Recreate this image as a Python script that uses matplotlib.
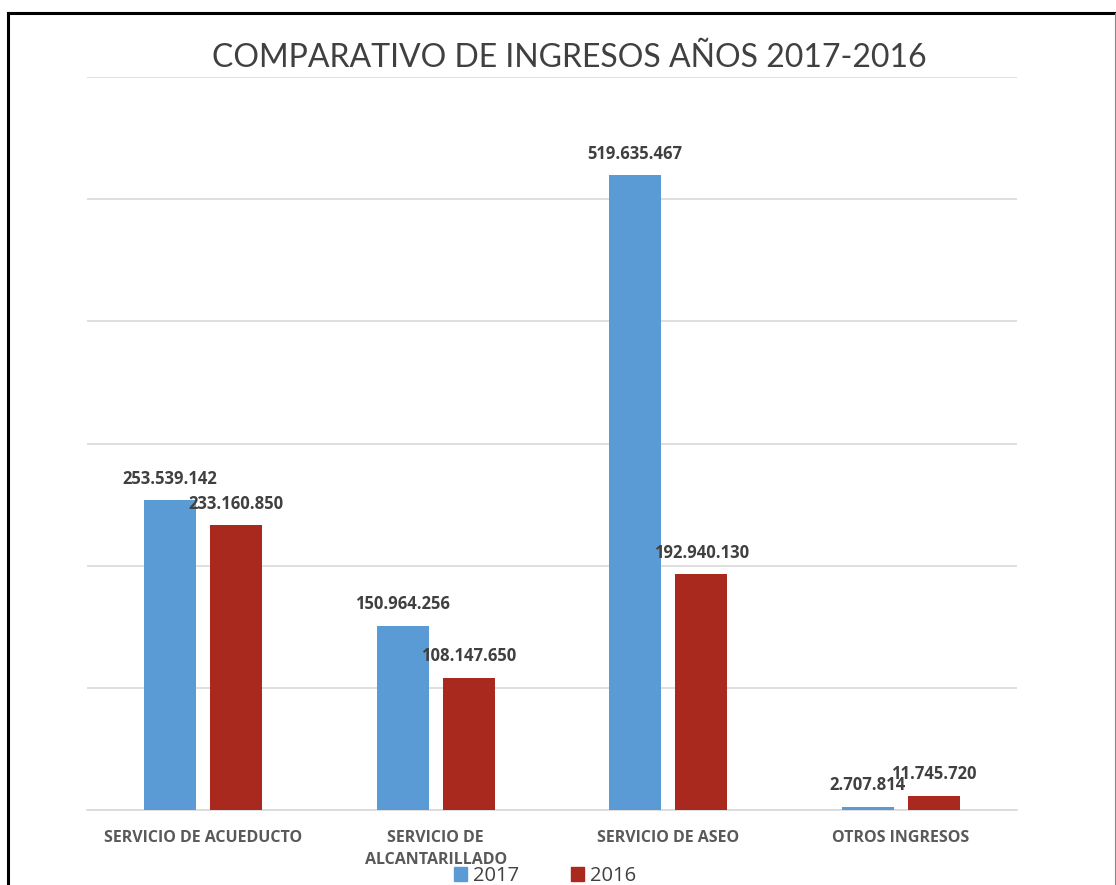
import matplotlib
matplotlib.use("Agg")
import matplotlib.pyplot as plt
from matplotlib.lines import Line2D
from matplotlib.patches import Patch
import numpy as np

categories = ["SERVICIO DE ACUEDUCTO", "SERVICIO DE\nALCANTARILLADO", "SERVICIO DE ASEO", "OTROS INGRESOS"]
series_names = ["2017", "2016"]
values_2017 = [253539142, 150964256, 519635467, 2707814]
values_2016 = [233160850, 108147650, 192940130, 11745720]
colors = ["#5B9BD5", "#A9291F"]
title = "COMPARATIVO DE INGRESOS AÑOS 2017-2016"

W, H = 1116, 885
fig = plt.figure(figsize=(W / 100, H / 100), dpi=100)
fig.patch.set_facecolor("white")

# axes placement in pixels
left, right, top, bottom = 87, 1017, 77, 810
ax = fig.add_axes([left / W, 1 - bottom / H, (right - left) / W, (bottom - top) / H])

x = np.arange(len(categories))
width = 0.224
offset = 0.142

def fmt(v):
    return f"{v:,}".replace(",", ".")

for vals, name, col, off in zip([values_2017, values_2016], series_names, colors, [-offset, offset]):
    bars = ax.bar(x + off, vals, width=width, color=col, label=name, zorder=3)
    for b, v in zip(bars, vals):
        ax.annotate(fmt(v), (b.get_x() + b.get_width() / 2, b.get_height()),
                    xytext=(0, 9), textcoords="offset points",
                    ha="center", va="bottom", fontsize=12, fontweight="bold",
                    color="#404040", family="Open Sans")

ax.set_ylim(0, 600_000_000)
ax.set_xlim(-0.5, len(categories) - 0.5)
ax.set_yticks(np.arange(0, 600_000_001, 100_000_000))
ax.yaxis.grid(True, color="#d9d9d9", linewidth=1.2, zorder=0)
ax.tick_params(axis="y", left=False, labelleft=False)
ax.tick_params(axis="x", bottom=False, pad=11)
ax.set_xticks(x)
ax.set_xticklabels(categories, fontsize=11.5, fontweight="bold", color="#595959",
                   family="Open Sans", linespacing=1.45, va="top")
for s in ["left", "right", "top"]:
    ax.spines[s].set_visible(False)
ax.spines["bottom"].set_color("#d9d9d9")
ax.spines["bottom"].set_linewidth(1.2)

fig.text(569 / W, 1 - 58 / H, title, ha="center", va="center", fontsize=23,
         color="#404040", family="Lato")

handles = [Patch(color=c) for c in colors]
fig.legend(handles, series_names, loc="center", bbox_to_anchor=(545 / W, 1 - 876 / H),
           ncol=2, frameon=False, handlelength=0.65, handleheight=0.65,
           handletextpad=0.3, columnspacing=2.6,
           prop={"family": "Open Sans", "size": 14.5}, labelcolor="#404040")

# outer frame
fig.add_artist(Line2D([8 / W, 8 / W], [0, 1 - 13 / H], color="black", linewidth=2.2, transform=fig.transFigure))
fig.add_artist(Line2D([8 / W, 1], [1 - 13 / H, 1 - 13 / H], color="black", linewidth=2.2, transform=fig.transFigure))
fig.add_artist(Line2D([1115 / W, 1115 / W], [0, 1 - 13 / H], color="#888888", linewidth=0.8, transform=fig.transFigure))

fig.savefig("out.png", dpi=100, facecolor="white")
